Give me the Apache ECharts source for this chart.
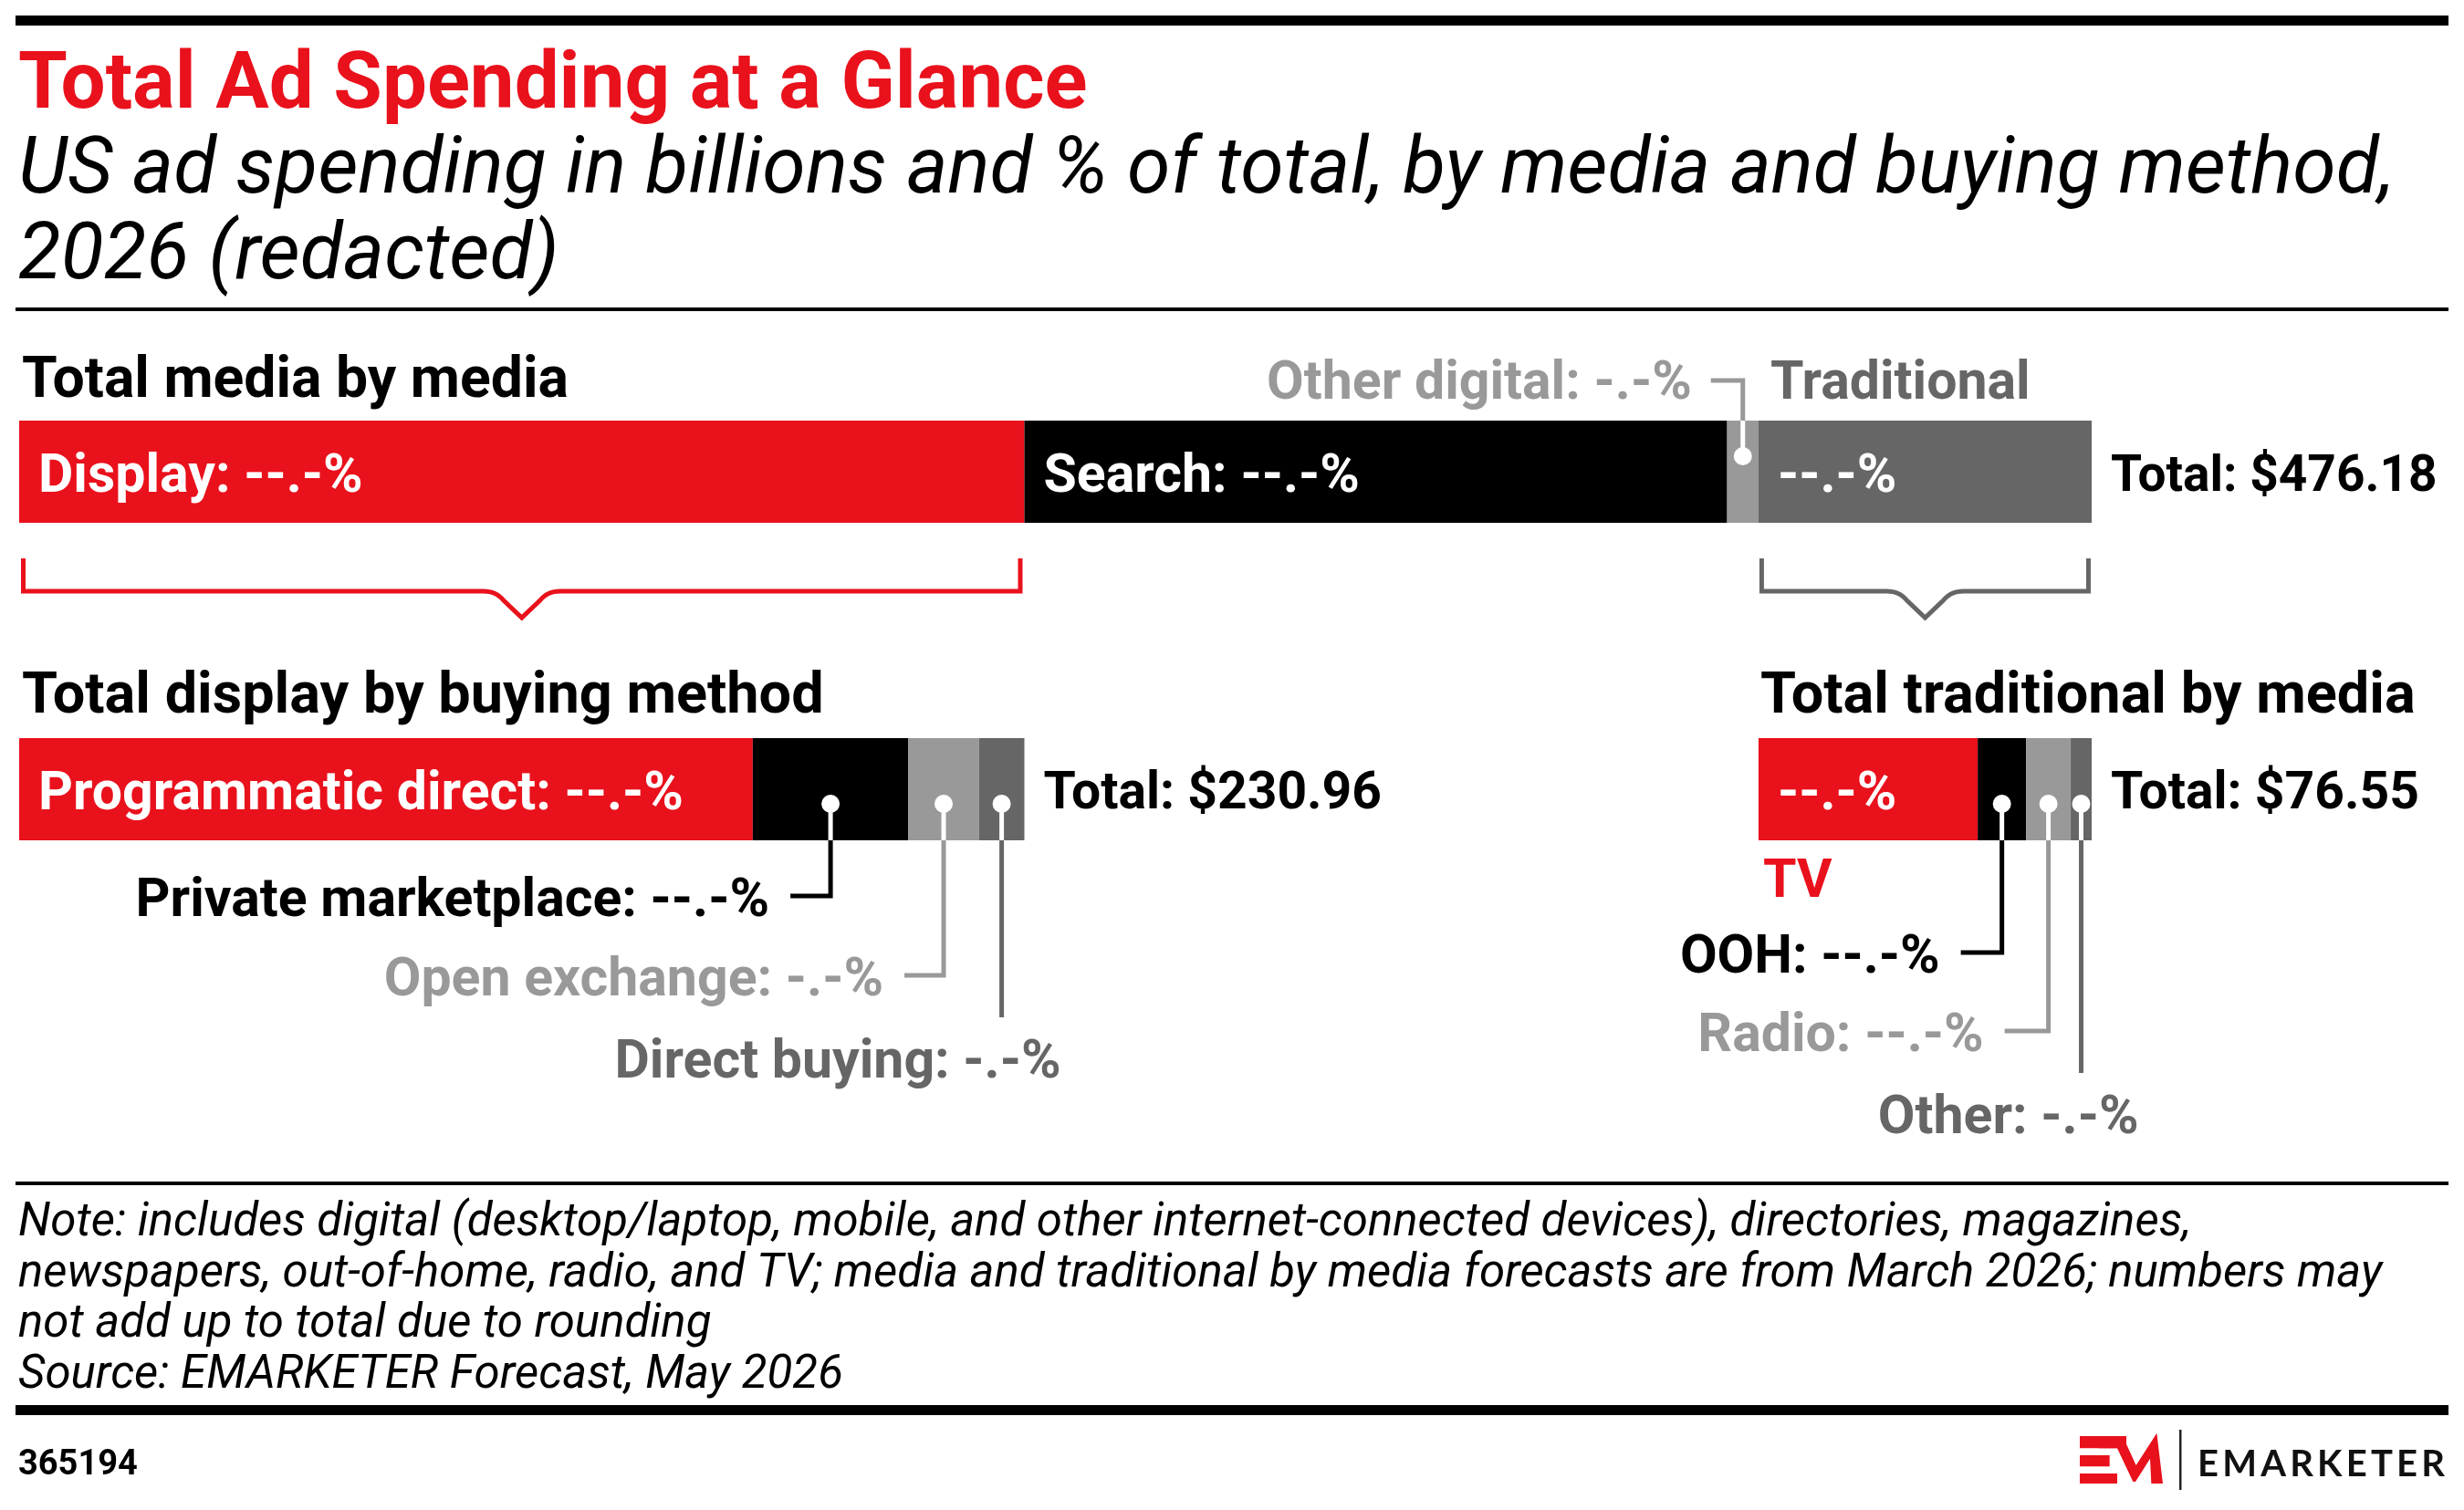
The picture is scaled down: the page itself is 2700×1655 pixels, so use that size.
<!DOCTYPE html>
<html><head><meta charset="utf-8">
<script src="https://cdn.jsdelivr.net/npm/echarts@6/dist/echarts.min.js"></script>
<style>html,body{margin:0;padding:0;background:#fff;}#c{width:2700px;height:1655px;}</style>
</head><body><div id="c"></div>
<script>
// ---------- data ----------
const mediaCategories = ['Display', 'Search', 'Other digital', 'Traditional'];
const mediaValues = [230.96, 161.47, 7.20, 76.55];
const mediaLabels = ['Display: --.-%', 'Search: --.-%', 'Other digital: -.-%', '--.-%'];
const mediaTotal = 476.18;

const displayCategories = ['Programmatic direct', 'Private marketplace', 'Open exchange', 'Direct buying'];
const displayValues = [168.55, 35.75, 16.22, 10.44];
const displayLabels = ['Programmatic direct: --.-%', 'Private marketplace: --.-%', 'Open exchange: -.-%', 'Direct buying: -.-%'];
const displayTotal = 230.96;

const traditionalCategories = ['TV', 'OOH', 'Radio', 'Other'];
const traditionalValues = [50.37, 11.12, 10.25, 4.81];
const traditionalLabels = ['--.-%', 'OOH: --.-%', 'Radio: --.-%', 'Other: -.-%'];
const traditionalTotal = 76.55;

const noteLines = [
  'Note: includes digital (desktop/laptop, mobile, and other internet-connected devices), directories, magazines,',
  'newspapers, out-of-home, radio, and TV; media and traditional by media forecasts are from March 2026; numbers may',
  'not add up to total due to rounding',
  'Source: EMARKETER Forecast, May 2026'
];

// ---------- styles ----------
const RED = '#E9111C', BLACK = '#000000', LIGHT = '#999999', DARK = '#666666';
const segColors = [RED, BLACK, LIGHT, DARK];
const FONT = 'Roboto';
const LBL = 59;
const K = 0.25; // middle-to-baseline factor

const chart = echarts.init(document.getElementById('c'), null, {renderer: 'canvas'});

const g0Left = 21, g0Width = 2271, barH = 112;
const cum = (arr, n) => arr.slice(0, n).reduce((a, b) => a + b, 0);
const g1Width = g0Width * mediaValues[0] / mediaTotal;
const g2Left = g0Left + g0Width * cum(mediaValues, 3) / mediaTotal;
const g2Width = g0Width * mediaValues[3] / mediaTotal;

const groups = [
  {values: mediaValues, labels: mediaLabels, total: mediaTotal, cats: mediaCategories, inside: [true, true, false, true], totalSize: 55},
  {values: displayValues, labels: displayLabels, total: displayTotal, cats: displayCategories, inside: [true, false, false, false], totalSize: 57},
  {values: traditionalValues, labels: traditionalLabels, total: traditionalTotal, cats: traditionalCategories, inside: [true, false, false, false], totalSize: 57}
];

const series = [];
groups.forEach((g, gi) => {
  g.values.forEach((v, i) => {
    series.push({
      type: 'bar', name: g.cats[i], stack: 's' + gi, xAxisIndex: gi, yAxisIndex: gi,
      data: [v], barWidth: '100%', silent: true,
      itemStyle: {color: segColors[i]},
      label: {
        show: g.inside[i], position: 'insideLeft', distance: 21, offset: [0, 7],
        formatter: g.labels[i], color: '#fff', fontSize: LBL, fontWeight: 'bold', fontFamily: FONT
      }
    });
  });
});

chart.setOption({
  animation: false,
  backgroundColor: '#fff',
  grid: [
    {left: g0Left, top: 461, width: g0Width, height: barH},
    {left: g0Left, top: 809, width: g1Width, height: barH},
    {left: g2Left, top: 809, width: g2Width, height: barH}
  ],
  xAxis: groups.map((g, gi) => ({type: 'value', gridIndex: gi, min: 0, max: g.total, show: false})),
  yAxis: groups.map((g, gi) => ({type: 'category', gridIndex: gi, data: ['2026'], show: false})),
  series: series
});

// ---------- annotations ----------
const Z = 100;
function txt(x, baseline, text, size, weight, color, align, fstyle, family) {
  return {type: 'text', x: x, y: baseline - K * size, silent: true, z: Z,
    style: {text: text, fontSize: size, fontWeight: weight, fontFamily: family || FONT, fontStyle: fstyle || 'normal',
      fill: color, textAlign: align || 'left', textVerticalAlign: 'middle'}};
}
function rect(x, y, w, h, c) { return {type: 'rect', silent: true, z: Z, shape: {x: x, y: y, width: w, height: h}, style: {fill: c}}; }
function line(pts, c, w) { return {type: 'polyline', silent: true, z: Z, shape: {points: pts}, style: {stroke: c, lineWidth: w || 5, fill: null}}; }
function dot(x, y) { return {type: 'circle', silent: true, z: Z + 1, shape: {cx: x, cy: y, r: 10}, style: {fill: '#fff'}}; }

const px = (gi, v) => chart.convertToPixel({xAxisIndex: gi, yAxisIndex: gi}, [v, 0]);
const segMid = (gi, i) => px(gi, cum(groups[gi].values, i) + groups[gi].values[i] / 2)[0];
const segStart = (gi, i) => px(gi, cum(groups[gi].values, i))[0];
const barEnd = gi => px(gi, groups[gi].total)[0];
const barCy = gi => px(gi, 0)[1];

const G = [];
// rules
G.push(rect(17, 17, 2666, 11, '#000'));
G.push(rect(17, 337, 2666, 4, '#000'));
G.push(rect(17, 1295, 2666, 4, '#000'));
G.push(rect(17, 1540, 2666, 11, '#000'));

// titles
G.push(txt(20, 118, 'Total Ad Spending at a Glance', 87, 'bold', RED));
G.push(txt(20, 211, 'US ad spending in billions and % of total, by media and buying method,', 86, 'normal', '#000', 'left', 'italic'));
G.push(txt(20, 305, '2026 (redacted)', 86, 'normal', '#000', 'left', 'italic'));

// section headings
G.push(txt(24, 435, 'Total media by media', 62.5, 'bold', '#000'));
G.push(txt(24, 781, 'Total display by buying method', 63, 'bold', '#000'));
G.push(txt(segStart(2, 0) + 2, 781, 'Total traditional by media', 63, 'bold', '#000'));

// totals
[0, 1, 2].forEach(gi => {
  const base = barCy(gi) + 21;
  G.push(txt(barEnd(gi) + 21, base, 'Total: $' + groups[gi].total.toFixed(2), groups[gi].totalSize, 'bold', '#000'));
});

// bar 1: other digital (above) + traditional header
{
  const cy = barCy(0), top = cy - barH / 2;
  const dx = segMid(0, 2), dy = cy - 17;
  G.push(line([[dx, dy], [dx, top]], '#fff', 5));
  G.push(line([[dx, top], [dx, top - 44], [dx - 35, top - 44]], LIGHT, 5));
  G.push(dot(dx, dy));
  G.push(txt(dx - 56, 437, mediaLabels[2], LBL, 'bold', LIGHT, 'right'));
  G.push(txt(segStart(0, 3) + 13, 437, 'Traditional', LBL, 'bold', DARK));
}

// callouts below bars 2 and 3
function callouts(gi, specs) {
  const cy = barCy(gi), bottom = cy + barH / 2;
  specs.forEach(s => {
    const i = s.i, dx = segMid(gi, i), dy = cy + 16, ly = bottom + s.drop;
    const col = segColors[i];
    G.push(line([[dx, dy], [dx, bottom]], '#fff', 5));
    if (s.left) {
      G.push(line([[dx, bottom], [dx, ly], [dx - s.left, ly]], col, 5));
      G.push(txt(dx - s.left - 23, ly + 22, groups[gi].labels[i], LBL, 'bold', col, 'right'));
    } else {
      G.push(line([[dx, bottom], [dx, ly]], col, 5));
      G.push(txt(dx + s.right, ly + 66, groups[gi].labels[i], LBL, 'bold', col, 'right'));
    }
    G.push(dot(dx, dy));
  });
}
callouts(1, [{i: 1, drop: 61, left: 44}, {i: 2, drop: 148, left: 43}, {i: 3, drop: 194, right: 65}]);
callouts(2, [{i: 1, drop: 123, left: 45}, {i: 2, drop: 209, left: 48}, {i: 3, drop: 255, right: 63}]);
G.push(txt(segStart(2, 0) + 5, 983, traditionalCategories[0], LBL, 'bold', RED));

// brackets
function quad(p0, p1, p2, n) {
  const out = [];
  for (let k = 1; k <= n; k++) {
    const t = k / n, u = 1 - t;
    out.push([u * u * p0[0] + 2 * u * t * p1[0] + t * t * p2[0], u * u * p0[1] + 2 * u * t * p1[1] + t * t * p2[1]]);
  }
  return out;
}
function bracket(x1, x2, col) {
  const y0 = 612, y1 = 648, c = (x1 + x2) / 2;
  let pts = [[x1, y0], [x1, y1], [c - 42, y1]];
  pts = pts.concat(quad([c - 42, y1], [c - 28, y1], [c - 20, y1 + 10], 8));
  pts.push([c, y1 + 29]);
  pts.push([c + 20, y1 + 10]);
  pts = pts.concat(quad([c + 20, y1 + 10], [c + 28, y1], [c + 42, y1], 8));
  pts.push([x2, y1], [x2, y0]);
  return {type: 'polyline', silent: true, z: Z, shape: {points: pts}, style: {stroke: col, lineWidth: 5, fill: null, lineJoin: 'miter'}};
}
G.push(bracket(segStart(0, 0) + 4.5, segStart(0, 1) - 4.5, RED));
G.push(bracket(segStart(0, 3) + 3.5, barEnd(0) - 3.5, DARK));

// notes
noteLines.forEach((t, k) => G.push(txt(20, 1354 + k * 55.7, t, 51, 'normal', '#000', 'left', 'italic')));
G.push(txt(20, 1616, '365194', 38, 'bold', '#000'));

// logo
{
  const L = (zx, zy) => [2200 + zx / 3, 1500 + zy / 3];
  G.push(rect(L(237, 0)[0], L(0, 222)[1], (390 - 237) / 3, 40 / 3, RED));
  G.push(rect(L(237, 0)[0], L(0, 285)[1], (335 - 237) / 3, 37 / 3, RED));
  G.push(rect(L(237, 0)[0], L(0, 345)[1], (360 - 237) / 3, 33 / 3, RED));
  G.push({type: 'polygon', silent: true, z: Z, shape: {points: [L(300, 222), L(378, 222), L(422, 318), L(490, 212), L(510, 378), L(472, 378), L(468, 296), L(420, 372), L(412, 372), L(360, 262), L(300, 262)]}, style: {fill: RED}});
  G.push(rect(2388, 1567, 2.5, 66, '#222'));
  const word = 'EMARKETER';
  const cv = document.createElement('canvas').getContext('2d');
  const fs = 40;
  cv.font = 'bold ' + fs + 'px Lato';
  const widths = word.split('').map(ch => cv.measureText(ch).width);
  const total = widths.reduce((a, b) => a + b, 0);
  const gap = (2679 - 2408 - total) / (word.length - 1);
  let x = 2408;
  word.split('').forEach((ch, k) => {
    G.push(txt(x, 1615, ch, fs, 'bold', '#111', 'left', 'normal', 'Lato'));
    x += widths[k] + gap;
  });
}

chart.setOption({graphic: {elements: G}});
</script></body></html>
